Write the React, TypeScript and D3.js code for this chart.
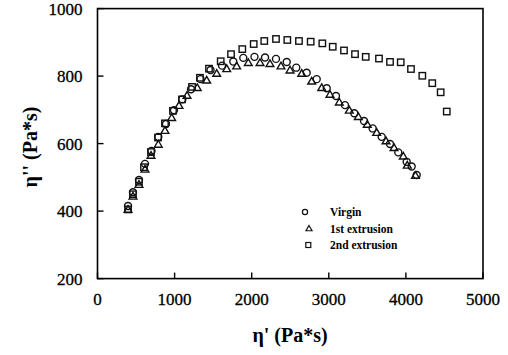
import React from 'react';
import * as d3 from 'd3';

// eta' (x) and eta'' (y)
const virginX = [396, 460, 538, 616, 700, 789, 888, 992, 1100, 1213, 1336, 1466, 1615, 1761, 1891, 2036, 2173, 2315, 2454, 2578, 2713, 2843, 2973, 3093, 3210, 3331, 3457, 3569, 3686, 3794, 3901, 4010, 4075, 4140];
const virginY = [415, 456, 492, 540, 578, 620, 658, 699, 731, 761, 791, 818, 831, 843, 854, 857, 855, 851, 842, 825, 810, 791, 764, 741, 714, 690, 667, 645, 620, 599, 574, 546, 532, 507];

const firstX = [396, 460, 538, 616, 694, 789, 875, 962, 1057, 1161, 1294, 1416, 1546, 1676, 1805, 1956, 2108, 2237, 2380, 2497, 2649, 2778, 2908, 3015, 3136, 3266, 3383, 3499, 3621, 3742, 3846, 3966, 4018, 4124];
const firstY = [403, 442, 477, 522, 563, 596, 637, 675, 711, 741, 764, 786, 806, 820, 828, 838, 838, 835, 828, 816, 806, 783, 764, 744, 721, 697, 678, 655, 631, 606, 586, 561, 534, 504];

const secondX = [396, 460, 538, 603, 694, 785, 875, 979, 1096, 1226, 1329, 1446, 1598, 1732, 1878, 2026, 2163, 2315, 2462, 2613, 2765, 2916, 3051, 3197, 3340, 3479, 3651, 3794, 3933, 4066, 4213, 4342, 4451, 4530];
const secondY = [405, 450, 487, 530, 575, 618, 660, 697, 731, 768, 795, 822, 844, 865, 880, 895, 904, 910, 907, 904, 902, 897, 887, 876, 865, 857, 852, 842, 841, 821, 801, 779, 752, 695];

const xTicks = [0, 1000, 2000, 3000, 4000, 5000];
const yTicks = [200, 400, 600, 800, 1000];
const legendLabels = ['Virgin', '1st extrusion', '2nd extrusion'];

const W = 508;
const H = 355;
const left = 97.5;
const right = 483;
const top = 8.6;
const bottom = 278.6;

const serif = '"Liberation Serif", "Times New Roman", serif';

export default function App() {
  const x = d3.scaleLinear().domain([0, 5000]).range([left, right]);
  const y = d3.scaleLinear().domain([200, 1000]).range([bottom, top]);

  const tri = d3.symbol().type(d3.symbolTriangle).size(26)();
  const triSmall = d3.symbol().type(d3.symbolTriangle).size(16)();

  const zip = (xs: number[], ys: number[]) => xs.map((v, i) => [v, ys[i]]);

  return (
    <svg width={W} height={H} style={{ position: 'absolute', left: 0, top: 0, background: '#fff' }}>
      <g fill="none" stroke="#111" strokeWidth={1.4}>
        {zip(secondX, secondY).map(([a, b], i) => (
          <rect key={'s' + i} x={x(a) - 3.2} y={y(b) - 3.2} width={6.4} height={6.4} />
        ))}
        {zip(firstX, firstY).map(([a, b], i) => (
          <path key={'t' + i} d={tri!} transform={`translate(${x(a)},${y(b)})`} />
        ))}
        {zip(virginX, virginY).map(([a, b], i) => (
          <circle key={'c' + i} cx={x(a)} cy={y(b)} r={3.5} />
        ))}
      </g>

      {/* frame */}
      <rect x={left} y={top} width={right - left} height={bottom - top} fill="none" stroke="#000" strokeWidth={1.6} />

      {/* ticks */}
      <g stroke="#000" strokeWidth={1.4}>
        {xTicks.map(t => (
          <line key={'xt' + t} x1={x(t)} x2={x(t)} y1={bottom} y2={bottom - 6} />
        ))}
        {yTicks.map(t => (
          <line key={'yt' + t} x1={left} x2={left + 6} y1={y(t)} y2={y(t)} />
        ))}
      </g>

      <g fontFamily={serif} fontSize={17} fill="#000" stroke="#000" strokeWidth={0.3}>
        {xTicks.map(t => (
          <text key={'xl' + t} x={x(t)} y={bottom + 26} textAnchor="middle">{t}</text>
        ))}
        {yTicks.map(t => (
          <text key={'yl' + t} x={left - 15} y={y(t) + 6} textAnchor="end">{t}</text>
        ))}
      </g>

      <text x={290} y={342} textAnchor="middle" fontFamily={serif} fontWeight="bold" fontSize={20}>η' (Pa*s)</text>
      <text transform={`translate(37,147) rotate(-90)`} textAnchor="middle" fontFamily={serif} fontWeight="bold" fontSize={20}>η'' (Pa*s)</text>

      {/* legend */}
      <g fill="none" stroke="#111" strokeWidth={1.2}>
        <circle cx={305} cy={212} r={2.6} />
        <path d={triSmall!} transform="translate(309,229)" />
        <rect x={305.8} y={242.5} width={5} height={5} />
      </g>
      <g fontFamily={serif} fontWeight="bold" fontSize={11.5} fill="#000">
        {legendLabels.map((l, i) => (
          <text key={l} x={330} y={216 + i * 16.5}>{l}</text>
        ))}
      </g>
    </svg>
  );
}
